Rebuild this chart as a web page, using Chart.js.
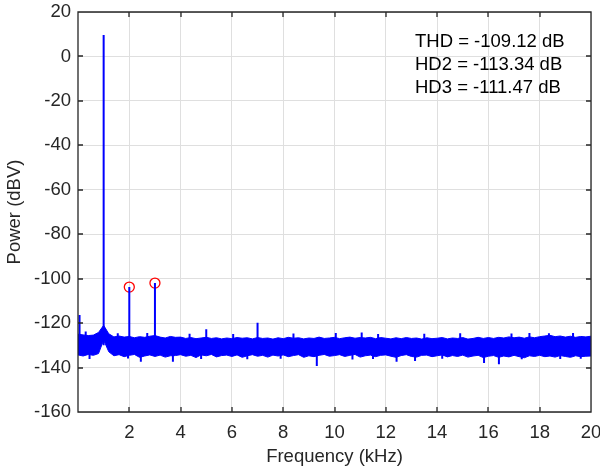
<!DOCTYPE html>
<html>
<head>
<meta charset="utf-8">
<script src="https://cdn.jsdelivr.net/npm/chart.js@4/dist/chart.umd.min.js"></script>
<style>
html,body{margin:0;padding:0;background:#fff;}
canvas{display:block;}
</style>
</head>
<body>
<canvas id="c" width="600" height="472"></canvas>
<script>
// ---- data ----
const freqKHz = [
  0.0, 0.2, 0.4, 0.6, 0.8, 1.0, 1.2, 1.4, 1.6, 1.8,
  2.0, 2.2, 2.4, 2.6, 2.8, 3.0, 3.2, 3.4, 3.6, 3.8,
  4.0, 4.2, 4.4, 4.6, 4.8, 5.0, 5.2, 5.4, 5.6, 5.8,
  6.0, 6.2, 6.4, 6.6, 6.8, 7.0, 7.2, 7.4, 7.6, 7.8,
  8.0, 8.2, 8.4, 8.6, 8.8, 9.0, 9.2, 9.4, 9.6, 9.8,
  10.0, 10.2, 10.4, 10.6, 10.8, 11.0, 11.2, 11.4, 11.6, 11.8,
  12.0, 12.2, 12.4, 12.6, 12.8, 13.0, 13.2, 13.4, 13.6, 13.8,
  14.0, 14.2, 14.4, 14.6, 14.8, 15.0, 15.2, 15.4, 15.6, 15.8,
  16.0, 16.2, 16.4, 16.6, 16.8, 17.0, 17.2, 17.4, 17.6, 17.8,
  18.0, 18.2, 18.4, 18.6, 18.8, 19.0, 19.2, 19.4, 19.6, 19.8,
  20.0
];
// upper edge of the noise floor (dBV)
const noiseUpper = [
  -125.0, -125.3, -125.6, -125.4, -124.2, -121.0, -124.8, -126.2, -125.8, -126.3,
  -126.0, -126.6, -126.1, -126.4, -125.9, -125.6, -126.3, -126.7, -126.0, -126.4,
  -126.3, -126.9, -126.5, -127.0, -126.7, -126.4, -126.9, -126.6, -127.1, -126.7,
  -127.0, -126.5, -126.8, -126.6, -127.1, -126.5, -126.9, -126.7, -127.2, -126.6,
  -127.0, -126.4, -126.8, -126.6, -127.1, -126.7, -126.9, -126.3, -126.9, -126.7,
  -126.4, -127.0, -126.6, -126.3, -126.8, -126.5, -126.7, -126.4, -127.0, -126.5,
  -126.8, -127.1, -126.6, -127.0, -126.5, -126.9, -126.7, -127.2, -126.6, -127.0,
  -126.8, -126.5, -127.1, -126.7, -126.9, -126.5, -127.2, -126.9, -126.4, -126.9,
  -126.5, -126.9, -126.4, -126.7, -126.2, -126.6, -126.3, -126.8, -126.2, -126.6,
  -126.1, -125.8, -125.5, -126.1, -125.8, -126.3, -125.9, -126.4, -126.0, -126.2,
  -125.9
];
// lower edge of the noise floor (dBV)
const noiseLower = [
  -134.3, -134.8, -134.1, -134.5, -133.7, -127.6, -132.9, -134.7, -134.2, -135.1,
  -134.5, -134.1, -135.4, -134.8, -134.3, -135.0, -134.4, -135.3, -134.7, -134.6,
  -134.2, -134.9, -134.5, -135.5, -134.3, -134.7, -134.1, -135.2, -134.6, -134.4,
  -135.0, -134.3, -135.4, -134.7, -134.2, -134.9, -134.5, -135.3, -134.4, -134.8,
  -134.3, -135.1, -134.6, -134.2, -135.4, -134.7, -135.1, -134.5, -134.1, -134.9,
  -134.6, -134.2, -135.0, -134.5, -134.1, -135.3, -134.7, -134.4, -135.1, -134.5,
  -134.3, -134.9, -135.4, -134.6, -134.2, -135.0, -135.3, -134.5, -134.4, -135.1,
  -134.7, -134.3, -135.2, -134.6, -135.0, -134.4, -135.3, -134.8, -134.5, -135.5,
  -134.9, -134.6, -135.4, -134.8, -135.2, -134.5, -135.1, -135.6, -134.7, -135.0,
  -134.5, -135.1, -134.8, -135.3, -134.6, -135.0, -135.4, -134.7, -135.1, -134.9,
  -134.8
];
// narrow spectral lines (tone, harmonics, spurs and deep dips) leaving the floor
const spikeFreq = [
  0.06, 0.30, 0.45, 1.00, 1.55, 1.95, 2.00, 2.45, 2.70, 3.00,
  3.70, 4.35, 4.80, 5.00, 6.05, 6.60, 7.00, 7.90, 8.40, 9.31,
  10.05, 10.70, 11.06, 11.50, 11.70, 12.42, 13.14, 13.50, 14.20, 14.90,
  15.83, 16.41, 16.90, 17.30, 17.60, 18.36, 18.80, 19.30, 19.60
];
const spikeTop = [
  -116.4, -123.8, -136.2, 9.6, -124.6, -135.9, -103.8, -137.4, -124.5, -102.0,
  -137.4, -124.8, -136.1, -122.8, -124.9, -136.3, -119.8, -136.0, -124.7, -139.3,
  -124.5, -136.4, -124.2, -136.2, -124.9, -137.4, -137.1, -124.8, -136.0, -124.6,
  -138.0, -138.5, -124.7, -136.3, -124.5, -124.6, -136.1, -124.4, -136.0
];
const floorLevel = -130;
// marked harmonics
const hdFreq = [2.0, 3.0];
const hdDb = [-103.8, -102.0];
// annotation text
const infoLines = ['THD = -109.12 dB', 'HD2 = -113.34 dB', 'HD3 = -111.47 dB'];
// ticks
const xTicks = [2, 4, 6, 8, 10, 12, 14, 16, 18, 20];
const yTicks = [-160, -140, -120, -100, -80, -60, -40, -20, 0, 20];

// ---- build datasets ----
const upperPts = freqKHz.map((f, i) => ({x: f, y: noiseUpper[i]}));
const lowerPts = freqKHz.map((f, i) => ({x: f, y: noiseLower[i]}));
const spikePts = [];
spikeFreq.forEach((f, i) => {
  spikePts.push({x: f, y: floorLevel});
  spikePts.push({x: f, y: spikeTop[i]});
  spikePts.push({x: f, y: null});
});
const hdPts = hdFreq.map((f, i) => ({x: f, y: hdDb[i]}));

const FONT = "'Liberation Sans', Arial, Helvetica, sans-serif";
const AXC = '#262626';
Chart.defaults.font.family = FONT;
Chart.defaults.font.size = 18.5;
Chart.defaults.color = AXC;

const frame = {
  id: 'frame',
  afterDraw(chart) {
    const ctx = chart.ctx;
    const a = chart.chartArea;
    const x = chart.scales.x, y = chart.scales.y;
    ctx.save();
    ctx.globalAlpha = 1;
    ctx.setLineDash([]);
    ctx.strokeStyle = '#262626';
    ctx.lineWidth = 1.3;
    const L = Math.round(a.left), R = Math.round(a.right);
    const T = Math.round(a.top), B = Math.round(a.bottom);
    ctx.beginPath();
    ctx.moveTo(L, T); ctx.lineTo(R, T); ctx.lineTo(R, B); ctx.lineTo(L, B); ctx.closePath();
    const tl = 5;
    xTicks.forEach(v => {
      const px = Math.round(x.getPixelForValue(v));
      ctx.moveTo(px, B); ctx.lineTo(px, B - tl);
      ctx.moveTo(px, T); ctx.lineTo(px, T + tl);
    });
    yTicks.forEach(v => {
      const py = Math.round(y.getPixelForValue(v));
      ctx.moveTo(L, py); ctx.lineTo(L + tl, py);
      ctx.moveTo(R, py); ctx.lineTo(R - tl, py);
    });
    ctx.stroke();
    // text content
    ctx.fillStyle = '#000';
    ctx.font = '18.5px ' + FONT;
    ctx.textAlign = 'left';
    ctx.textBaseline = 'middle';
    const ys = [41.5, 64.5, 88];
    infoLines.forEach((t, i) => ctx.fillText(t, 415, ys[i]));
    ctx.restore();
  }
};

new Chart(document.getElementById('c'), {
  type: 'line',
  data: {
    datasets: [
      {data: upperPts, borderColor: '#0000ff', borderWidth: 1, pointRadius: 0, fill: false, tension: 0},
      {data: lowerPts, borderColor: '#0000ff', borderWidth: 1, pointRadius: 0, fill: '-1', backgroundColor: '#0000ff', tension: 0},
      {data: spikePts, borderColor: '#0000ff', borderWidth: 2, pointRadius: 0, fill: false, spanGaps: false, tension: 0},
      {type: 'scatter', data: hdPts, showLine: false, pointStyle: 'circle', pointRadius: 5, pointBorderWidth: 1.3,
       pointBorderColor: '#ff0000', pointBackgroundColor: 'rgba(0,0,0,0)', borderColor: '#ff0000', backgroundColor: 'rgba(0,0,0,0)'}
    ]
  },
  options: {
    responsive: false,
    animation: false,
    devicePixelRatio: 1,
    layout: {padding: {top: 12, right: 9, left: 0, bottom: 0}},
    plugins: {legend: {display: false}, tooltip: {enabled: false}},
    scales: {
      x: {
        type: 'linear', min: 0, max: 20,
        afterBuildTicks: s => { s.ticks = xTicks.map(v => ({value: v})); },
        afterFit: s => { s.height = 60; s.paddingLeft = 0; s.paddingRight = 0; },
        ticks: {padding: 10, maxRotation: 0, autoSkip: false, color: AXC, callback: v => String(v)},
        grid: {color: '#dfdfdf', lineWidth: 1, drawTicks: false},
        border: {display: false},
        title: {display: true, text: 'Frequency (kHz)', color: AXC, font: {size: 18.5}}
      },
      y: {
        type: 'linear', min: -160, max: 20,
        afterBuildTicks: s => { s.ticks = yTicks.map(v => ({value: v})); },
        afterFit: s => { s.width = 78; s.paddingTop = 0; s.paddingBottom = 0; },
        ticks: {padding: 7, autoSkip: false, color: AXC, callback: v => String(v)},
        grid: {color: '#dfdfdf', lineWidth: 1, drawTicks: false},
        border: {display: false},
        title: {display: true, text: 'Power (dBV)', color: AXC, font: {size: 18.5}}
      }
    }
  },
  plugins: [frame]
});
</script>
</body>
</html>
